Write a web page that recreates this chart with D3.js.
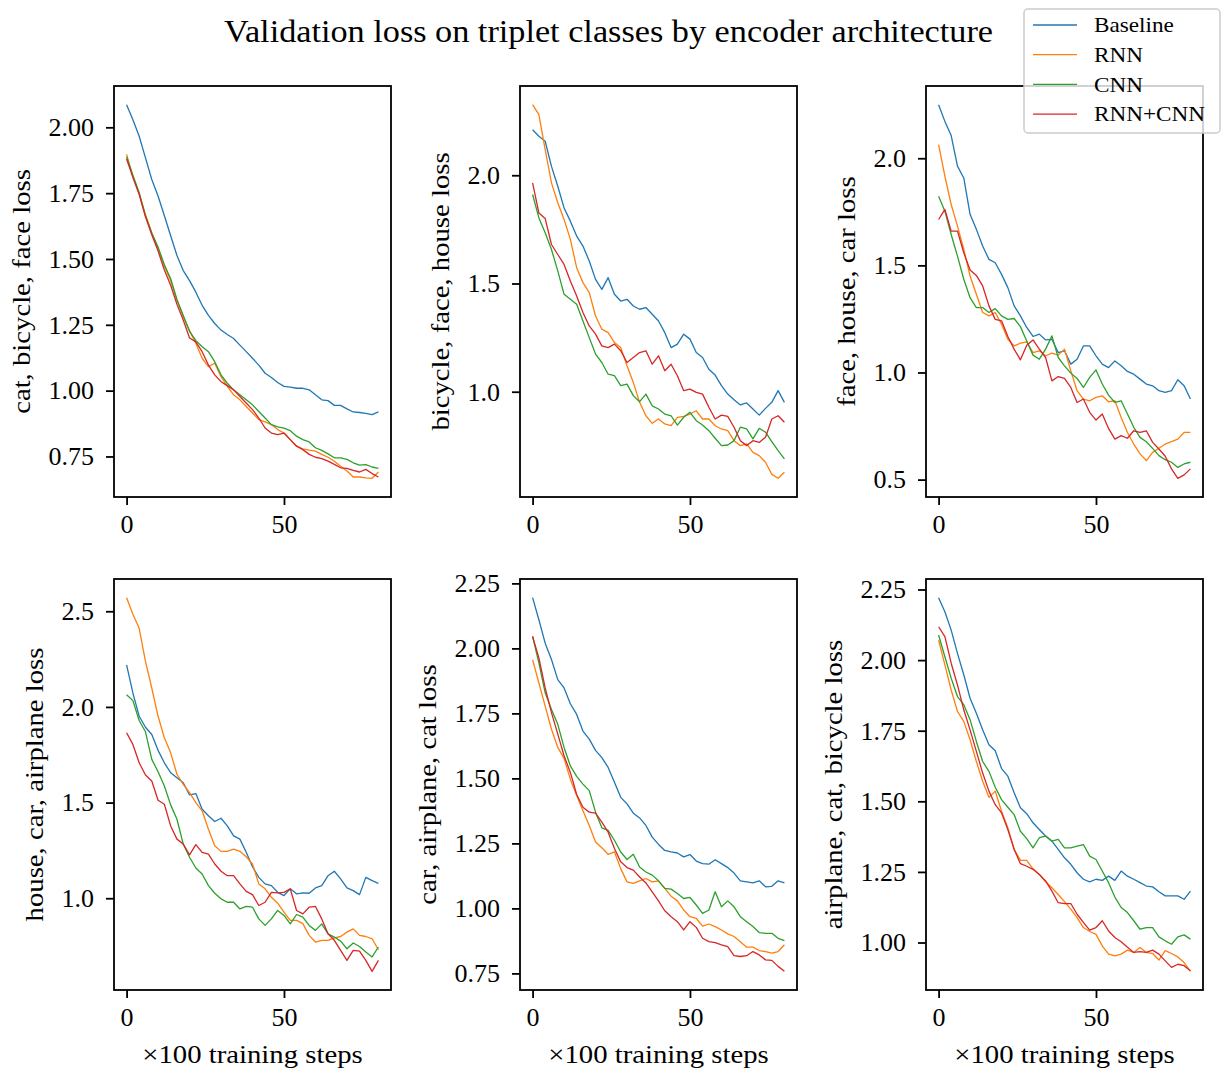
<!DOCTYPE html>
<html>
<head>
<meta charset="utf-8">
<script src="https://cdn.jsdelivr.net/npm/d3@7"></script>
<style>
  body { margin: 0; background: #fff; }
  svg { display: block; }
  text { font-family: "Liberation Serif", "Times New Roman", serif; fill: #000; }
</style>
</head>
<body>
<div id="chart"></div>
<script>
// training steps (x100), sampled every 2
const steps = d3.range(0, 81, 2);

const seriesNames = ["Baseline", "RNN", "CNN", "RNN+CNN"];
const seriesColors = ["#1f77b4", "#ff7f0e", "#2ca02c", "#d62728"];

// validation loss per panel, one array per series in seriesNames order
const lossCatBicycleFace = [
  [2.086,2.029,1.966,1.884,1.802,1.739,1.664,1.588,1.513,1.456,1.418,1.374,1.324,1.286,1.255,1.230,1.213,1.198,1.173,1.148,1.123,1.097,1.066,1.050,1.031,1.016,1.013,1.009,1.009,1.003,0.984,0.965,0.962,0.944,0.944,0.931,0.919,0.917,0.914,0.909,0.919],
  [1.897,1.812,1.748,1.668,1.600,1.540,1.472,1.418,1.345,1.282,1.228,1.180,1.123,1.091,1.104,1.053,1.016,0.984,0.965,0.940,0.915,0.890,0.881,0.871,0.852,0.839,0.814,0.789,0.779,0.774,0.770,0.758,0.747,0.732,0.713,0.695,0.672,0.672,0.669,0.667,0.691],
  [1.888,1.818,1.752,1.664,1.598,1.545,1.478,1.425,1.345,1.285,1.225,1.190,1.167,1.148,1.110,1.060,1.028,1.003,0.984,0.965,0.946,0.921,0.896,0.871,0.862,0.858,0.848,0.827,0.814,0.805,0.783,0.773,0.760,0.745,0.745,0.739,0.726,0.717,0.719,0.710,0.705],
  [1.880,1.810,1.745,1.660,1.592,1.530,1.458,1.400,1.328,1.268,1.200,1.185,1.148,1.097,1.060,1.034,1.019,1.003,0.978,0.953,0.928,0.896,0.858,0.839,0.833,0.839,0.814,0.789,0.776,0.758,0.747,0.742,0.732,0.720,0.707,0.705,0.697,0.691,0.701,0.685,0.672]
];
const lossBicycleFaceHouse = [
  [2.210,2.180,2.157,2.041,1.949,1.849,1.788,1.719,1.673,1.604,1.519,1.473,1.527,1.450,1.419,1.427,1.396,1.381,1.389,1.358,1.327,1.273,1.204,1.220,1.266,1.243,1.181,1.158,1.104,1.077,1.028,0.989,0.963,0.939,0.948,0.920,0.892,0.923,0.951,1.005,0.951],
  [2.326,2.280,2.118,1.965,1.873,1.796,1.704,1.573,1.504,1.458,1.350,1.289,1.273,1.227,1.204,1.120,1.043,0.951,0.889,0.854,0.874,0.851,0.843,0.882,0.886,0.897,0.912,0.874,0.874,0.843,0.828,0.820,0.774,0.751,0.759,0.720,0.705,0.674,0.618,0.600,0.628],
  [1.911,1.803,1.734,1.657,1.558,1.450,1.427,1.404,1.327,1.250,1.174,1.135,1.081,1.074,1.028,1.035,0.982,0.954,0.989,0.935,0.920,0.897,0.889,0.846,0.882,0.905,0.866,0.846,0.820,0.785,0.751,0.754,0.774,0.836,0.828,0.782,0.831,0.813,0.770,0.728,0.690],
  [1.965,1.826,1.800,1.680,1.634,1.588,1.512,1.442,1.366,1.304,1.266,1.212,1.204,1.220,1.189,1.135,1.158,1.181,1.189,1.127,1.166,1.097,1.127,1.074,1.005,1.012,0.997,0.989,0.928,0.874,0.892,0.886,0.836,0.774,0.751,0.774,0.766,0.790,0.874,0.889,0.859]
];
const lossFaceHouseCar = [
  [2.250,2.172,2.106,1.963,1.908,1.738,1.668,1.590,1.528,1.512,1.458,1.396,1.311,1.264,1.210,1.168,1.179,1.152,1.155,1.093,1.101,1.039,1.062,1.124,1.124,1.078,1.039,1.023,1.054,1.031,1.005,0.992,0.969,0.946,0.938,0.915,0.907,0.915,0.966,0.938,0.876],
  [2.064,1.916,1.784,1.683,1.575,1.450,1.365,1.280,1.264,1.280,1.225,1.155,1.124,1.137,1.143,1.093,1.101,1.078,1.090,1.081,1.109,1.008,0.915,0.876,0.868,0.884,0.891,0.863,0.868,0.790,0.720,0.666,0.620,0.589,0.627,0.646,0.666,0.677,0.689,0.720,0.720],
  [1.823,1.753,1.644,1.543,1.435,1.349,1.303,1.303,1.280,1.298,1.264,1.248,1.252,1.214,1.147,1.081,1.062,1.109,1.171,1.070,1.031,0.997,0.972,0.930,0.977,1.012,0.946,0.894,0.860,0.868,0.806,0.744,0.697,0.677,0.646,0.612,0.593,0.581,0.557,0.573,0.581],
  [1.714,1.761,1.660,1.660,1.559,1.478,1.453,1.404,1.311,1.248,1.241,1.168,1.109,1.059,1.127,1.152,1.109,1.070,0.961,0.981,0.972,0.930,0.860,0.876,0.814,0.778,0.806,0.739,0.689,0.705,0.693,0.728,0.720,0.728,0.674,0.643,0.609,0.550,0.506,0.522,0.550]
];
const lossHouseCarAirplane = [
  [2.220,2.073,1.951,1.894,1.856,1.773,1.708,1.656,1.630,1.604,1.540,1.547,1.465,1.431,1.401,1.418,1.378,1.326,1.309,1.240,1.165,1.109,1.075,1.066,1.031,1.014,1.049,1.023,1.028,1.026,1.054,1.066,1.118,1.141,1.101,1.054,1.040,1.019,1.109,1.092,1.078],
  [2.571,2.484,2.411,2.238,2.099,1.951,1.839,1.760,1.648,1.595,1.552,1.500,1.457,1.361,1.274,1.245,1.245,1.257,1.245,1.217,1.179,1.075,1.049,1.005,0.974,0.927,0.884,0.884,0.867,0.806,0.771,0.780,0.780,0.793,0.800,0.823,0.840,0.806,0.800,0.788,0.731],
  [2.064,2.033,1.929,1.870,1.726,1.661,1.587,1.488,1.413,1.283,1.214,1.158,1.127,1.066,1.026,0.997,0.979,0.979,0.944,0.957,0.953,0.892,0.858,0.892,0.936,0.910,0.866,0.915,0.901,0.858,0.832,0.866,0.814,0.797,0.776,0.736,0.766,0.748,0.719,0.693,0.745],
  [1.865,1.804,1.708,1.644,1.613,1.512,1.491,1.378,1.309,1.283,1.227,1.280,1.240,1.231,1.179,1.141,1.118,1.118,1.075,1.036,1.019,0.962,0.979,1.031,1.028,1.031,1.049,0.936,0.918,0.953,0.957,0.892,0.814,0.780,0.727,0.675,0.727,0.724,0.675,0.618,0.675]
];
const lossCarAirplaneCat = [
  [2.195,2.110,2.020,1.957,1.880,1.848,1.787,1.746,1.682,1.651,1.608,1.580,1.542,1.485,1.427,1.402,1.366,1.348,1.319,1.274,1.246,1.223,1.217,1.213,1.198,1.207,1.182,1.172,1.170,1.187,1.172,1.157,1.136,1.106,1.102,1.098,1.106,1.083,1.085,1.106,1.098],
  [1.957,1.867,1.778,1.689,1.619,1.577,1.497,1.434,1.376,1.319,1.255,1.233,1.208,1.217,1.153,1.102,1.096,1.106,1.115,1.102,1.106,1.077,1.047,1.029,0.994,0.968,0.962,0.932,0.940,0.930,0.917,0.902,0.892,0.872,0.851,0.851,0.838,0.834,0.828,0.834,0.860],
  [2.046,1.944,1.829,1.765,1.708,1.619,1.548,1.508,1.478,1.453,1.370,1.310,1.300,1.262,1.217,1.188,1.208,1.159,1.140,1.128,1.106,1.077,1.074,1.057,1.038,1.042,1.013,0.981,0.994,1.064,1.006,1.029,1.006,0.968,0.949,0.930,0.907,0.904,0.904,0.885,0.876],
  [2.046,1.963,1.848,1.753,1.670,1.587,1.523,1.438,1.389,1.370,1.366,1.332,1.293,1.230,1.179,1.157,1.147,1.121,1.098,1.064,1.029,0.991,0.968,0.949,0.917,0.949,0.927,0.885,0.872,0.868,0.860,0.853,0.818,0.815,0.818,0.834,0.821,0.802,0.800,0.777,0.758]
];
const lossAirplaneCatBicycle = [
  [2.221,2.171,2.106,2.024,1.948,1.865,1.812,1.753,1.700,1.679,1.616,1.589,1.530,1.477,1.456,1.424,1.400,1.377,1.359,1.330,1.300,1.277,1.247,1.224,1.215,1.224,1.220,1.235,1.220,1.253,1.235,1.224,1.212,1.200,1.197,1.180,1.165,1.165,1.165,1.153,1.182],
  [2.071,1.983,1.894,1.818,1.783,1.718,1.641,1.571,1.514,1.536,1.465,1.406,1.330,1.291,1.291,1.261,1.241,1.215,1.194,1.170,1.145,1.118,1.088,1.053,1.039,1.029,0.988,0.959,0.953,0.959,0.973,0.965,0.982,0.965,0.961,0.938,0.971,0.961,0.949,0.929,0.898],
  [2.089,2.012,1.936,1.871,1.842,1.789,1.712,1.641,1.606,1.550,1.506,1.479,1.453,1.394,1.368,1.335,1.371,1.377,1.359,1.365,1.335,1.335,1.341,1.347,1.306,1.294,1.253,1.212,1.161,1.124,1.106,1.077,1.047,1.053,1.053,1.020,1.006,0.994,1.020,1.027,1.012],
  [2.118,2.083,1.989,1.912,1.824,1.753,1.677,1.600,1.536,1.488,1.459,1.400,1.330,1.279,1.270,1.259,1.241,1.218,1.182,1.141,1.138,1.138,1.100,1.071,1.044,1.053,1.077,1.041,1.018,1.003,0.983,0.965,0.968,0.965,0.973,0.959,0.935,0.912,0.923,0.918,0.900]
];

const panelLosses = [lossCatBicycleFace, lossBicycleFaceHouse, lossFaceHouseCar,
                     lossHouseCarAirplane, lossCarAirplaneCat, lossAirplaneCatBicycle];
const panelLabels = ["cat, bicycle, face loss", "bicycle, face, house loss", "face, house, car loss",
                     "house, car, airplane loss", "car, airplane, cat loss", "airplane, cat, bicycle loss"];
const panelYTicks = [
  [0.75, 1.00, 1.25, 1.50, 1.75, 2.00],
  [1.0, 1.5, 2.0],
  [0.5, 1.0, 1.5, 2.0],
  [1.0, 1.5, 2.0, 2.5],
  [0.75, 1.00, 1.25, 1.50, 1.75, 2.00, 2.25],
  [1.00, 1.25, 1.50, 1.75, 2.00, 2.25]
];
const panelYFormats = [".2f", ".1f", ".1f", ".1f", ".2f", ".2f"];
const xTicks = [0, 50];

const titleText = "Validation loss on triplet classes by encoder architecture";
const xLabelText = "\u00d7100 training steps";

// layout (pixels)
const WIDTH = 1221, HEIGHT = 1069;
const colLefts = [114, 520, 926];
const rowTops = [86, 579];
const PW = 277, PH = 411;
const TICK = 8;

const svg = d3.select("#chart").append("svg")
    .attr("width", WIDTH)
    .attr("height", HEIGHT);

// title: Liberation Serif is narrower than the original font, so stretch a bit
const title = svg.append("text")
    .attr("x", 608.5)
    .attr("y", 42)
    .attr("text-anchor", "middle")
    .style("font-size", "31px")
    .text(titleText);
const widen = 769 / title.node().getComputedTextLength();
title.attr("textLength", 769).attr("lengthAdjust", "spacingAndGlyphs");

function stretch(sel) {
    const w = sel.node().getComputedTextLength();
    sel.attr("textLength", w * widen).attr("lengthAdjust", "spacingAndGlyphs");
    return sel;
}

panelLosses.forEach((losses, i) => {
    const col = i % 3, row = Math.floor(i / 3);
    const left = colLefts[col], top = rowTops[row];

    const x = d3.scaleLinear().domain([-4, 84]).range([left, left + PW]);
    const [lo, hi] = d3.extent(losses.flat());
    const pad = (hi - lo) * 0.05;   // matplotlib-like margins
    const y = d3.scaleLinear().domain([lo - pad, hi + pad]).range([top + PH, top]);

    const g = svg.append("g");

    const line = d3.line()
        .x((d, j) => x(steps[j]))
        .y(d => y(d));

    g.selectAll("path.series")
        .data(losses)
        .enter()
        .append("path")
        .attr("class", "series")
        .attr("d", line)
        .attr("fill", "none")
        .attr("stroke", (d, k) => seriesColors[k])
        .attr("stroke-width", 1.3)
        .attr("stroke-linejoin", "round");

    // y axis
    const yAxis = g.append("g")
        .attr("transform", `translate(${left},0)`)
        .call(d3.axisLeft(y)
            .tickValues(panelYTicks[i])
            .tickFormat(d3.format(panelYFormats[i]))
            .tickSize(TICK)
            .tickPadding(12));
    yAxis.select(".domain").remove();
    yAxis.selectAll(".tick line").attr("stroke", "#000").attr("stroke-width", 1.8);
    yAxis.selectAll(".tick text")
        .attr("fill", "#000")
        .style("font-size", "26px")
        .style("font-family", '"Liberation Serif", serif');

    // x axis
    const xAxis = g.append("g")
        .attr("transform", `translate(0,${top + PH})`)
        .call(d3.axisBottom(x)
            .tickValues(xTicks)
            .tickFormat(d3.format("d"))
            .tickSize(TICK)
            .tickPadding(10));
    xAxis.select(".domain").remove();
    xAxis.selectAll(".tick line").attr("stroke", "#000").attr("stroke-width", 1.8);
    xAxis.selectAll(".tick text")
        .attr("fill", "#000")
        .style("font-size", "26px")
        .style("font-family", '"Liberation Serif", serif');

    // frame
    g.append("rect")
        .attr("x", left)
        .attr("y", top)
        .attr("width", PW)
        .attr("height", PH)
        .attr("fill", "none")
        .attr("stroke", "#000")
        .attr("stroke-width", 1.8);

    // y label, placed left of the widest tick label
    const labelW = d3.max(yAxis.selectAll(".tick text").nodes(), n => n.getComputedTextLength());
    const labelX = left - TICK - 12 - labelW - 19;
    const ylab = g.append("text")
        .attr("transform", `translate(${labelX},${top + PH / 2}) rotate(-90)`)
        .attr("text-anchor", "middle")
        .style("font-size", "26px")
        .text(panelLabels[i]);
    stretch(ylab);

    if (row === 1) {
        const xlab = g.append("text")
            .attr("x", left + PW / 2)
            .attr("y", top + PH + 73)
            .attr("text-anchor", "middle")
            .style("font-size", "26px")
            .text(xLabelText);
        stretch(xlab);
    }
});

// legend, drawn last so it sits over the right panel
const legend = svg.append("g").attr("transform", "translate(1024,9)");
legend.append("rect")
    .attr("width", 196)
    .attr("height", 124)
    .attr("rx", 4)
    .attr("fill", "rgba(255,255,255,0.8)")
    .attr("stroke", "#cccccc")
    .attr("stroke-width", 1.5);
seriesNames.forEach((name, k) => {
    const cy = 16 + k * 29.7;
    legend.append("line")
        .attr("x1", 9).attr("x2", 53)
        .attr("y1", cy).attr("y2", cy)
        .attr("stroke", seriesColors[k])
        .attr("stroke-width", 1.3);
    const t = legend.append("text")
        .attr("x", 70)
        .attr("y", cy)
        .attr("dy", "0.35em")
        .style("font-size", "21px")
        .text(name);
    stretch(t);
});
</script>
</body>
</html>
